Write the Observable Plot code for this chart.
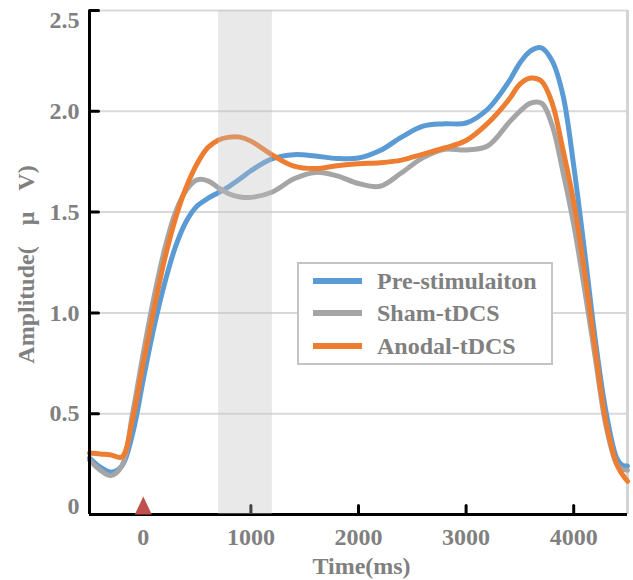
<!DOCTYPE html>
<html><head><meta charset="utf-8">
<script src="https://cdn.jsdelivr.net/npm/d3@7"></script>
<script src="https://cdn.jsdelivr.net/npm/@observablehq/plot@0.6"></script>
<style>
body{margin:0;background:#fff;}
#wrap{position:relative;width:633px;height:580px;}
#legend{position:absolute;left:297px;top:262px;width:252px;height:99px;border:2px solid #c4c4c4;background:#fff;font:bold 24px "Liberation Serif","Times New Roman",serif;color:#808080;}
.item{position:absolute;left:14px;height:32px;display:flex;align-items:center;white-space:nowrap}
.swatch{width:49px;height:6px;margin-right:15px}
</style></head><body><div id="wrap"></div>
<script>
const time   = [-500,-400,-300,-200,-100,0,100,200,300,400,500,600,700,800,900,1000,1200,1400,1600,1800,2000,2200,2400,2600,2800,3000,3200,3400,3500,3600,3700,3800,3900,4000,4100,4200,4300,4400,4450,4500];
const pre    = [0.28,0.235,0.21,0.24,0.40,0.67,0.93,1.15,1.33,1.455,1.53,1.568,1.597,1.628,1.665,1.705,1.765,1.785,1.778,1.766,1.768,1.805,1.872,1.926,1.938,1.942,2.01,2.15,2.24,2.30,2.315,2.25,2.08,1.73,1.31,0.87,0.51,0.28,0.245,0.24];
const sham   = [0.27,0.22,0.193,0.24,0.50,0.80,1.08,1.32,1.50,1.61,1.66,1.655,1.62,1.59,1.575,1.573,1.60,1.665,1.697,1.68,1.642,1.628,1.695,1.77,1.812,1.808,1.828,1.945,2.0,2.04,2.04,1.93,1.70,1.44,1.12,0.78,0.44,0.25,0.225,0.22];
const anodal = [0.305,0.30,0.295,0.285,0.47,0.75,1.02,1.27,1.47,1.625,1.74,1.82,1.858,1.872,1.872,1.852,1.783,1.728,1.716,1.73,1.74,1.745,1.758,1.788,1.818,1.855,1.94,2.06,2.135,2.165,2.15,2.04,1.81,1.55,1.21,0.82,0.46,0.25,0.20,0.165];
const seriesNames  = ["Pre-stimulaiton","Sham-tDCS","Anodal-tDCS"];
const seriesColors = ["#5B9BD5","#A5A5A5","#ED7D31"];
const yTicks = [0,0.5,1,1.5,2,2.5];
const xTicks = [0,1000,2000,3000,4000];
const shadeWindow = [700,1200];
const stimulusOnset = [0];
const xLabel = "Time(ms)";
const yLabel = "Amplitude( μ V)";

const seriesValues = [pre, sham, anodal];
const rows = [];
seriesValues.forEach((vals, i) => vals.forEach((v, j) => rows.push({series: seriesNames[i], time: time[j], value: v})));

const xDom = [-500, 4500], yDom = [0, 2.5];
const tickShape = {draw(ctx, l){ctx.moveTo(0,0); ctx.lineTo(0,-l);}};
const tri = {draw(ctx){ctx.moveTo(0,-18); ctx.lineTo(8.5,0); ctx.lineTo(-8.5,0); ctx.closePath();}};
const fmt = d => d === 0 ? "0" : d.toFixed(1);
const grey = "#808080";

const chart = Plot.plot({
  width: 633, height: 580,
  marginLeft: 89, marginRight: 6, marginTop: 10, marginBottom: 66,
  x: {domain: xDom},
  y: {domain: yDom},
  color: {domain: seriesNames, range: seriesColors},
  style: {fontFamily: '"Liberation Serif","Times New Roman",serif', fontWeight: "bold", fontSize: "24px", color: grey, background: "#fff"},
  marks: [
    Plot.ruleY(yTicks.filter(d => d > 0), {stroke: "#d9d9d9", strokeWidth: 2}),
    Plot.ruleX([xDom[1]], {stroke: "#d4d4d4", strokeWidth: 3}),
    Plot.line(rows, {x: "time", y: "value", z: "series", stroke: "series", strokeWidth: 5, curve: "catmull-rom"}),
    Plot.ruleX([xDom[0]], {y1: yDom[0], y2: yDom[1], stroke: "black", strokeWidth: 3}),
    Plot.ruleY([yDom[0]], {stroke: "black", strokeWidth: 3}),
    Plot.vector(yTicks.slice(1), {x: () => xDom[0], y: d => d, length: 9, rotate: 90, anchor: "start", shape: tickShape, stroke: "black", strokeWidth: 3}),
    Plot.vector(xTicks.slice(1), {x: d => d, y: () => yDom[0], length: 9, anchor: "start", shape: tickShape, stroke: "black", strokeWidth: 3}),
    Plot.dot(stimulusOnset, {x: d => d, y: () => yDom[0], symbol: tri, fill: "#C0504D", stroke: null}),
    Plot.rect([shadeWindow], {x1: d => d[0], x2: d => d[1], y1: () => yDom[0], y2: () => yDom[1], fill: "#bfbfbf", fillOpacity: 0.35}),
    Plot.axisY(yTicks.filter(d => d > 0 && d < 2.5), {tickSize: 0, tickPadding: 10, tickFormat: fmt, label: null}),
    Plot.axisY([2.5], {tickSize: 0, tickPadding: 10, tickFormat: fmt, label: null, dy: 10}),
    Plot.axisY([0], {tickSize: 0, tickPadding: 10, tickFormat: fmt, label: null, dy: -8}),
    Plot.axisX(xTicks, {tickSize: 0, tickPadding: 13, tickFormat: d => String(d), label: null}),
    Plot.text([xLabel], {frameAnchor: "bottom", dy: 52, dx: 3, lineAnchor: "middle", textAnchor: "middle"}),
    Plot.text([yLabel], {frameAnchor: "left", dx: -63, dy: 2, rotate: -90, lineAnchor: "middle", textAnchor: "middle", className: "ylab"})
  ]
});
chart.querySelectorAll("text").forEach(t => { if (t.textContent === yLabel) t.style.wordSpacing = "15px"; });
const wrap = document.getElementById("wrap");
wrap.appendChild(chart);

const legend = document.createElement("div");
legend.id = "legend";
const centers = [17, 49, 82];
seriesNames.forEach((name, i) => {
  const item = document.createElement("div");
  item.className = "item";
  item.style.top = (centers[i] - 16) + "px";
  const sw = document.createElement("span");
  sw.className = "swatch";
  sw.style.background = seriesColors[i];
  const tx = document.createElement("span");
  tx.textContent = name;
  item.appendChild(sw); item.appendChild(tx);
  legend.appendChild(item);
});
wrap.appendChild(legend);
</script></body></html>
